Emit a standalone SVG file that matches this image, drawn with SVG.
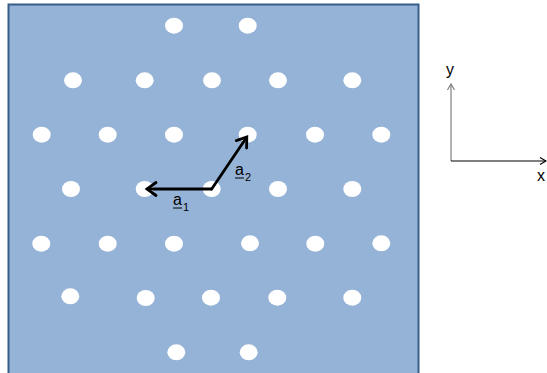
<svg xmlns="http://www.w3.org/2000/svg" width="547" height="373" viewBox="0 0 547 373">
<defs>
<style>
.dot{fill:#ffffff}
.vec{stroke:#000;stroke-width:2.8;fill:none;stroke-linecap:round;stroke-linejoin:round}
.head{stroke:#000;stroke-width:2.8;fill:none;stroke-linecap:round;stroke-linejoin:miter}
.ax{stroke-width:1.2;fill:none}
.lbl{font-family:"Liberation Sans",Arial,sans-serif;font-size:16px;fill:#000}
.sub{font-family:"Liberation Sans",Arial,sans-serif;font-size:11px;fill:#000}
</style>
</defs>
<rect id="plate" x="8.5" y="4.5" width="410" height="380" fill="#95b3d7" stroke="#385d8a" stroke-width="2"/>
<g id="lattice">
<ellipse class="dot" cx="174" cy="25.7" rx="9" ry="8"/>
<ellipse class="dot" cx="247.7" cy="25.7" rx="9" ry="8"/>
<ellipse class="dot" cx="73" cy="80.3" rx="9" ry="8"/>
<ellipse class="dot" cx="144.7" cy="80.3" rx="9" ry="8"/>
<ellipse class="dot" cx="212" cy="80.3" rx="9" ry="8"/>
<ellipse class="dot" cx="278" cy="80.3" rx="9" ry="8"/>
<ellipse class="dot" cx="352.3" cy="80.3" rx="9" ry="8"/>
<ellipse class="dot" cx="41.7" cy="134.7" rx="9" ry="8"/>
<ellipse class="dot" cx="107.7" cy="134.7" rx="9" ry="8"/>
<ellipse class="dot" cx="174" cy="134.7" rx="9" ry="8"/>
<ellipse class="dot" cx="247.7" cy="134.7" rx="9" ry="8"/>
<ellipse class="dot" cx="315" cy="134.7" rx="9" ry="8"/>
<ellipse class="dot" cx="381.3" cy="134.7" rx="9" ry="8"/>
<ellipse class="dot" cx="71" cy="189" rx="9" ry="8"/>
<ellipse class="dot" cx="144.7" cy="189" rx="9" ry="8"/>
<ellipse class="dot" cx="211.7" cy="189" rx="9" ry="8"/>
<ellipse class="dot" cx="278" cy="189" rx="9" ry="8"/>
<ellipse class="dot" cx="352.3" cy="189" rx="9" ry="8"/>
<ellipse class="dot" cx="41.3" cy="243.7" rx="9" ry="8"/>
<ellipse class="dot" cx="107.7" cy="243.7" rx="9" ry="8"/>
<ellipse class="dot" cx="174" cy="243.7" rx="9" ry="8"/>
<ellipse class="dot" cx="250" cy="243.3" rx="9" ry="8"/>
<ellipse class="dot" cx="315.3" cy="243.7" rx="9" ry="8"/>
<ellipse class="dot" cx="381.3" cy="243.3" rx="9" ry="8"/>
<ellipse class="dot" cx="70.3" cy="296.3" rx="9" ry="8"/>
<ellipse class="dot" cx="145.7" cy="298" rx="9" ry="8"/>
<ellipse class="dot" cx="211" cy="297.7" rx="9" ry="8"/>
<ellipse class="dot" cx="277.3" cy="297.7" rx="9" ry="8"/>
<ellipse class="dot" cx="352.3" cy="297.7" rx="9" ry="8"/>
<ellipse class="dot" cx="176.3" cy="352.3" rx="9" ry="8"/>
<ellipse class="dot" cx="248.7" cy="352.3" rx="9" ry="8"/>
</g>
<g id="connectors">
<path class="vec" d="M211.7,189 L147.5,189"/>
<path class="head" d="M156,182.5 L147,189 L156,195.5"/>
<path class="vec" d="M211.7,189 L246.5,137.5"/>
<path class="head" d="M236.3,140.6 L246.8,137 L246.6,148"/>
<path class="ax" stroke="#808080" d="M451,161 L451,84"/>
<path class="ax" stroke="#808080" d="M447.5,90 L451,84 L454.5,90"/>
<path class="ax" stroke="#000" d="M451,161 L546,161"/>
<path class="ax" stroke="#000" d="M540,157.5 L546,161 L540,164.5"/>
</g>
<g id="labels">
<text class="lbl" x="173" y="205">a</text>
<line x1="173" y1="208" x2="182" y2="208" stroke="#000" stroke-width="1"/>
<text class="sub" x="183" y="211">1</text>
<text class="lbl" x="235" y="175">a</text>
<line x1="235" y1="178" x2="244" y2="178" stroke="#000" stroke-width="1"/>
<text class="sub" x="245" y="181">2</text>
<text class="lbl" x="446" y="75">y</text>
<text class="lbl" x="537" y="181">x</text>
</g>
</svg>
